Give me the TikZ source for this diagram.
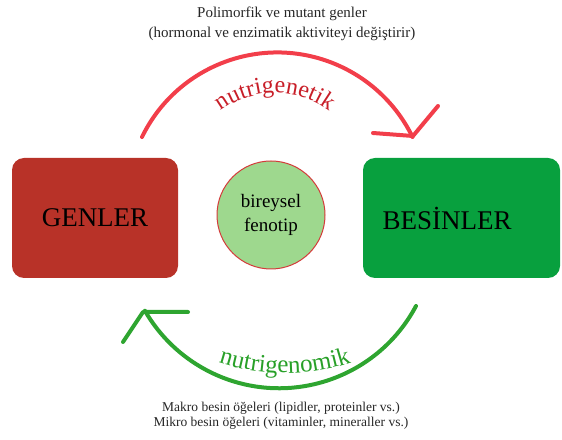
\documentclass[tikz,border=0pt]{standalone}
\usepackage{fontspec}
\setmainfont{Liberation Serif}
\usetikzlibrary{decorations.text}
\definecolor{genred}{RGB}{184,50,40}
\definecolor{besgreen}{RGB}{8,160,62}
\definecolor{fenofill}{RGB}{158,216,142}
\definecolor{fenoline}{RGB}{212,58,58}
\definecolor{arcred}{RGB}{242,62,74}
\definecolor{arcgreen}{RGB}{46,165,48}
\definecolor{txtred}{RGB}{200,30,40}
\definecolor{txtgreen}{RGB}{40,160,40}
\tikzset{
  bigbox/.style={rounded corners=12pt, minimum width=166pt, minimum height=120pt, inner sep=0pt,
    font=\fontsize{27}{30}\selectfont, text=black},
  fenonode/.style={circle, draw=fenoline, line width=1pt, fill=fenofill, minimum size=108pt, inner sep=0pt,
    align=center, font=\fontsize{19}{24}\selectfont},
  note/.style={align=center, inner sep=0pt, text=black!85},
  redarrow/.style={draw=arcred, line width=4pt, line cap=round, line join=round},
  greenarrow/.style={draw=arcgreen, line width=4pt, line cap=round, line join=round}
}
\begin{document}
\begin{tikzpicture}[x=1pt,y=1pt]
\useasboundingbox (0,0) rectangle (562,439);
% boxes
\node[bigbox, fill=genred] (genler) at (95,221) {GENLER};
\node[bigbox, fill=besgreen, minimum width=197pt] (besin) at (461.5,221) {};
\node[font=\fontsize{27}{30}\selectfont] (besintxt) at (447,221) {BES\.{I}NLER};
\node[fenonode] (feno) at (271,224) {bireysel\\fenotip};
% top and bottom notes
\node[note, font=\fontsize{15}{20}\selectfont] (topnote) at (282,415) {Polimorfik ve mutant genler\\(hormonal ve enzimatik aktiviteyi değiştirir)};
\node[note, font=\fontsize{13.5}{15.5}\selectfont] (botnote) at (281,23) {Makro besin öğeleri (lipidler, proteinler vs.)\\Mikro besin öğeleri (vitaminler, mineraller vs.)};
% red arc (nutrigenetik)
\coordinate (rs) at (142,302);
\coordinate (rt) at (413,303);
\coordinate (ra) at (373,306);
\coordinate (rb) at (438,333);
\draw[redarrow] (rs) arc[start angle=154, end angle=26, radius=150.5];
\draw[redarrow] (ra) -- (rt) -- (rb);
\path[decorate, decoration={text along path, text align=center,
  text={|\fontsize{24}{30}\selectfont\color{txtred}|nutrigenetik}}]
  (275,256) ++(150:90) arc[start angle=150, end angle=30, radius=90];
% green arc (nutrigenomik)
\coordinate (gs) at (416,133);
\coordinate (gt) at (143,127);
\coordinate (ga) at (188,127);
\coordinate (gb) at (123,97);
\draw[greenarrow] (gs) arc[start angle=-28, end angle=-150, radius=155];
\draw[greenarrow] (ga) -- (gt) -- (gb);
\path[decorate, decoration={text along path, text align=center,
  text={|\fontsize{25}{30}\selectfont\color{txtgreen}|nutrigenomik}}]
  (285,279) ++(235:213) arc[start angle=235, end angle=305, radius=213];
\end{tikzpicture}
\end{document}
